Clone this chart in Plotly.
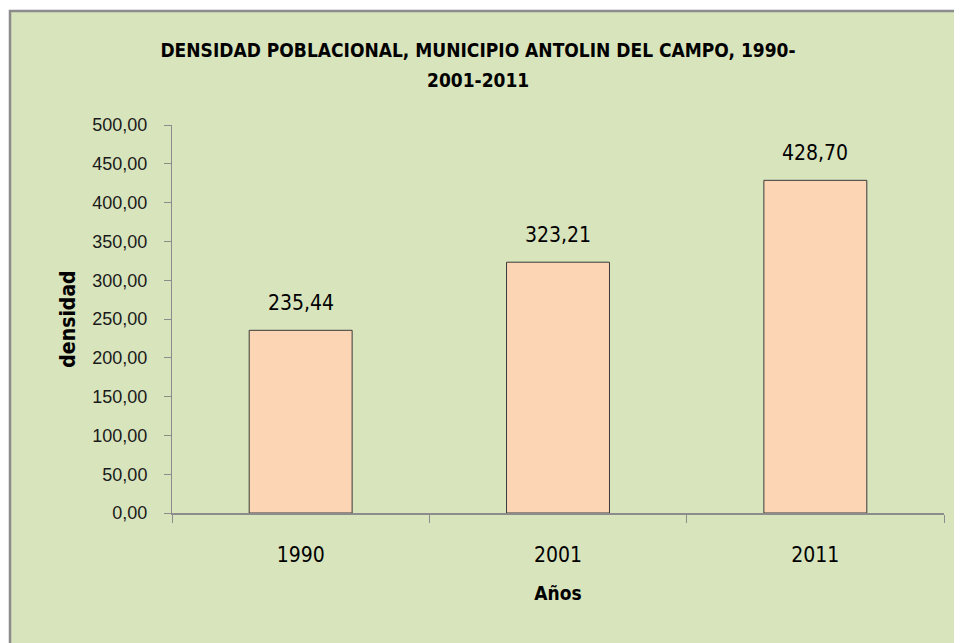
import plotly.graph_objects as go

years = ["1990", "2001", "2011"]
densidad = [235.44, 323.21, 428.70]
y_ticks = [0, 50, 100, 150, 200, 250, 300, 350, 400, 450, 500]

title_line1 = "DENSIDAD POBLACIONAL, MUNICIPIO ANTOLIN DEL CAMPO, 1990-"
title_line2 = "2001-2011"
narrow = "Liberation Sans Narrow, Arial Narrow, DejaVu Sans Condensed, sans-serif"

# the page body adds an 8px margin; figure fills the rest of the 962x643 window
OFF = 8
W, H = 962 - OFF, 643 - OFF
L, T = 172 - OFF, 125 - OFF
pw, ph = 772, 388
R, B = W - L - pw, H - T - ph

def px(x):
    return (x - OFF - L) / pw

def py(y):
    return (H - B - (y - OFF)) / ph

fig = go.Figure()
fig.add_trace(go.Bar(
    x=years, y=densidad, width=0.4,
    marker=dict(color="#FCD5B5", line=dict(color="#3a3a3a", width=1)),
    hoverinfo="skip",
))

for i, yv in enumerate(densidad):
    fig.add_annotation(x=i, y=yv, text=f"{yv:.2f}".replace(".", ","),
                       showarrow=False, yanchor="bottom", yshift=13,
                       font=dict(family=narrow, size=21, color="#000000"))

fig.add_annotation(xref="paper", yref="paper", x=px(478), y=py(80),
                   text=title_line2, showarrow=False, xanchor="center", yanchor="middle",
                   font=dict(family=narrow, size=19, color="#000000", weight="bold"))

fig.add_shape(type="rect", xref="paper", yref="paper",
              x0=px(10), x1=px(990), y0=py(11), y1=py(680),
              fillcolor="#D8E4BC", line=dict(color="#8C8C8C", width=2.5),
              layer="below")

fig.update_layout(
    width=W, height=H,
    margin=dict(l=L, r=R, t=T, b=B),
    paper_bgcolor="white",
    plot_bgcolor="rgba(0,0,0,0)",
    separators=",.",
    showlegend=False,
    title=dict(text=title_line1, x=(478 - OFF) / W, xanchor="center",
               y=1 - (50 - OFF) / H, yanchor="middle",
               font=dict(family=narrow, size=19, color="#000000", weight="bold")),
)
fig.update_xaxes(
    type="category", range=[-0.5, len(years) - 0.5],
    showline=True, linecolor="#8C8C8C", linewidth=2,
    ticks="outside", tickson="boundaries", ticklen=8, tickcolor="#8C8C8C", tickwidth=1,
    tickfont=dict(family=narrow, size=21, color="#000000"),
    ticklabelstandoff=22,
    title=dict(text="Años", font=dict(family=narrow, size=19, color="#000000", weight="bold"), standoff=20),
    showgrid=False, fixedrange=True,
)
fig.update_yaxes(
    range=[0, 500], tickvals=y_ticks, tickformat=".2f",
    showline=True, linecolor="#8C8C8C", linewidth=1,
    ticks="outside", ticklen=7, tickcolor="#8C8C8C", tickwidth=1,
    tickfont=dict(family="Liberation Sans, Arial, sans-serif", size=18, color="#1a1a1a"),
    ticklabelstandoff=13,
    title=dict(text="densidad", font=dict(family=narrow, size=21, color="#000000", weight="bold"), standoff=10),
    showgrid=False, zeroline=False, fixedrange=True,
)

fig.write_html("out.html", post_script="document.documentElement.style.overflow='hidden';")
